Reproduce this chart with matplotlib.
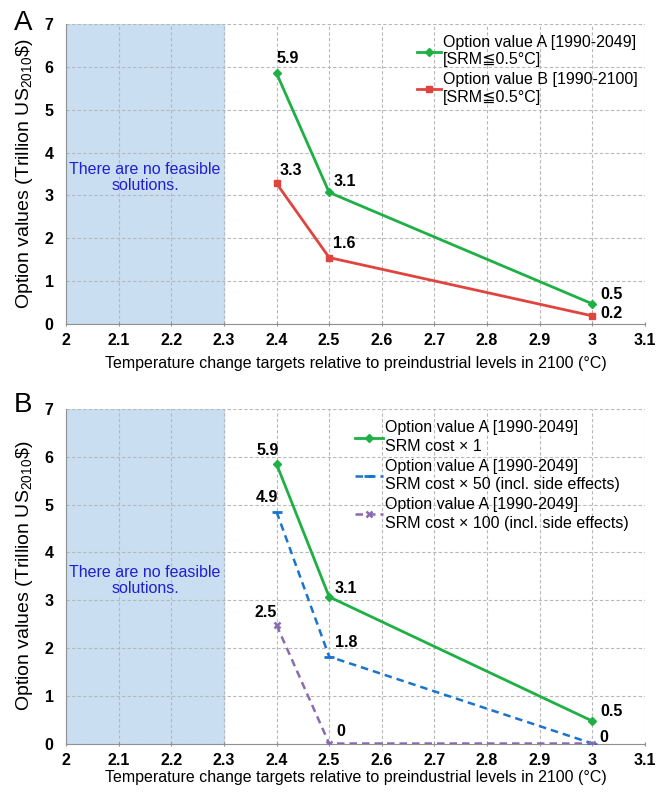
import matplotlib
matplotlib.use("Agg")
import matplotlib.pyplot as plt

plt.rcParams['font.family'] = ['Liberation Sans', 'DejaVu Sans']

# data
targets = [2.4, 2.5, 3.0]
opt_a = [5.85, 3.07, 0.47]
opt_b = [3.28, 1.55, 0.19]
opt_a_x50 = [4.85, 1.82, 0.0]
opt_a_x100 = [2.48, 0.0, 0.0]
labels_a = ['5.9', '3.1', '0.5']
labels_b = ['3.3', '1.6', '0.2']
labels_x50 = ['4.9', '1.8', '0']
labels_x100 = ['2.5', '0', '']   # same spot as the x50 "0" at 3.0
xticks = [2, 2.1, 2.2, 2.3, 2.4, 2.5, 2.6, 2.7, 2.8, 2.9, 3, 3.1]

green = '#1db044'
red = '#e0443f'
blue = '#1874cd'
purple = '#8a6bb0'
FS = 11.5

fig = plt.figure(figsize=(6.62, 7.92), dpi=100)
axA = fig.add_axes([0.0997, 0.5909, 0.8746, 0.3788])
axB = fig.add_axes([0.0997, 0.0612, 0.8746, 0.4223])


def style(ax, xpad):
    ax.set_xlim(2, 3.1)
    ax.set_ylim(0, 7)
    ax.set_xticks(xticks)
    ax.set_xticklabels([('%g' % t) for t in xticks], fontweight='bold', fontsize=FS)
    ax.set_yticks(range(8))
    ax.set_yticklabels([str(i) for i in range(8)], fontweight='bold', fontsize=FS)
    ax.grid(True, linestyle=(0, (3, 2)), color='#b8b8b8', linewidth=0.8)
    ax.set_axisbelow(True)
    for s in ['top', 'right']:
        ax.spines[s].set_visible(False)
    for s in ['left', 'bottom']:
        ax.spines[s].set_color('#909090')
    ax.tick_params(axis='y', length=0, pad=9)
    ax.tick_params(axis='x', length=3, color='#909090', direction='inout', pad=5)
    ax.axvspan(2, 2.3, color='#c9def1', zorder=0.5)
    ax.text(2.15, 3.42, 'There are no feasible\nsolutions.', color='#2020d0',
            ha='center', va='center', fontsize=FS, linespacing=1.1)
    ax.set_xlabel('Temperature change targets relative to preindustrial levels in 2100 (°C)',
                  fontsize=FS, labelpad=xpad)
    ax.set_ylabel('Option values (Trillion US$_{\\mathregular{2010}}$\\$)', fontsize=14,
                  labelpad=7)


def annotate(ax, ys, labs, offs):
    for x, y, l, (dx, dy, ha) in zip(targets, ys, labs, offs):
        ax.annotate(l, (x, y), xytext=(dx, dy), textcoords='offset points',
                    fontweight='bold', fontsize=FS, ha=ha, va='center')


def legend(ax, x, ls, lsp, hl):
    leg = ax.legend(loc='upper left', bbox_to_anchor=(x, 0.995), frameon=False, fontsize=FS,
                    handlelength=hl, handletextpad=0.1, labelspacing=lsp,
                    borderaxespad=0.2)
    for t in leg.get_texts():
        t.set_linespacing(ls)


# panel A
style(axA, 6)
axA.plot(targets, opt_a, color=green, lw=2, marker='D', ms=4,
         label='Option value A [1990-2049]\n[SRM≦0.5°C]', zorder=3)
axA.plot(targets, opt_b, color=red, lw=2, marker='s', ms=4,
         label='Option value B [1990-2100]\n[SRM≦0.5°C]', zorder=3)
annotate(axA, opt_a, labels_a, [(8, 11, 'center'), (3, 8, 'left'), (6, 7, 'left')])
annotate(axA, opt_b, labels_b, [(10, 9, 'center'), (3, 10, 'left'), (6, 1.5, 'left')])
legend(axA, 0.59, 1.2, 0.3, 1.5)
axA.text(-0.074, 1.003, 'A', transform=axA.transAxes, fontsize=20, ha='center', va='center')

# panel B
style(axB, 2)
axB.plot(targets, opt_a, color=green, lw=2, marker='D', ms=4,
         label='Option value A [1990-2049]\nSRM cost × 1', zorder=3)
axB.plot(targets, opt_a_x50, color=blue, lw=1.8, ls=(0, (3, 2)), marker='_', ms=7, mew=2,
         label='Option value A [1990-2049]\nSRM cost × 50 (incl. side effects)', zorder=3)
axB.plot(targets, opt_a_x100, color=purple, lw=1.8, ls=(0, (3, 2)), marker='x', ms=5, mew=1.8,
         label='Option value A [1990-2049]\nSRM cost × 100 (incl. side effects)', zorder=3)
annotate(axB, opt_a, labels_a, [(-6.5, 10, 'center'), (4, 6, 'left'), (6, 7, 'left')])
annotate(axB, opt_a_x50, labels_x50, [(-7, 10, 'center'), (4, 10, 'left'), (5, 4, 'left')])
annotate(axB, opt_a_x100, labels_x100, [(-8, 9, 'center'), (5, 9, 'left'), (5, 4, 'left')])
legend(axB, 0.483, 1.3, 0.3, 1.75)
axB.text(-0.074, 1.012, 'B', transform=axB.transAxes, fontsize=20, ha='center', va='center')

fig.savefig('out.png', dpi=100)
